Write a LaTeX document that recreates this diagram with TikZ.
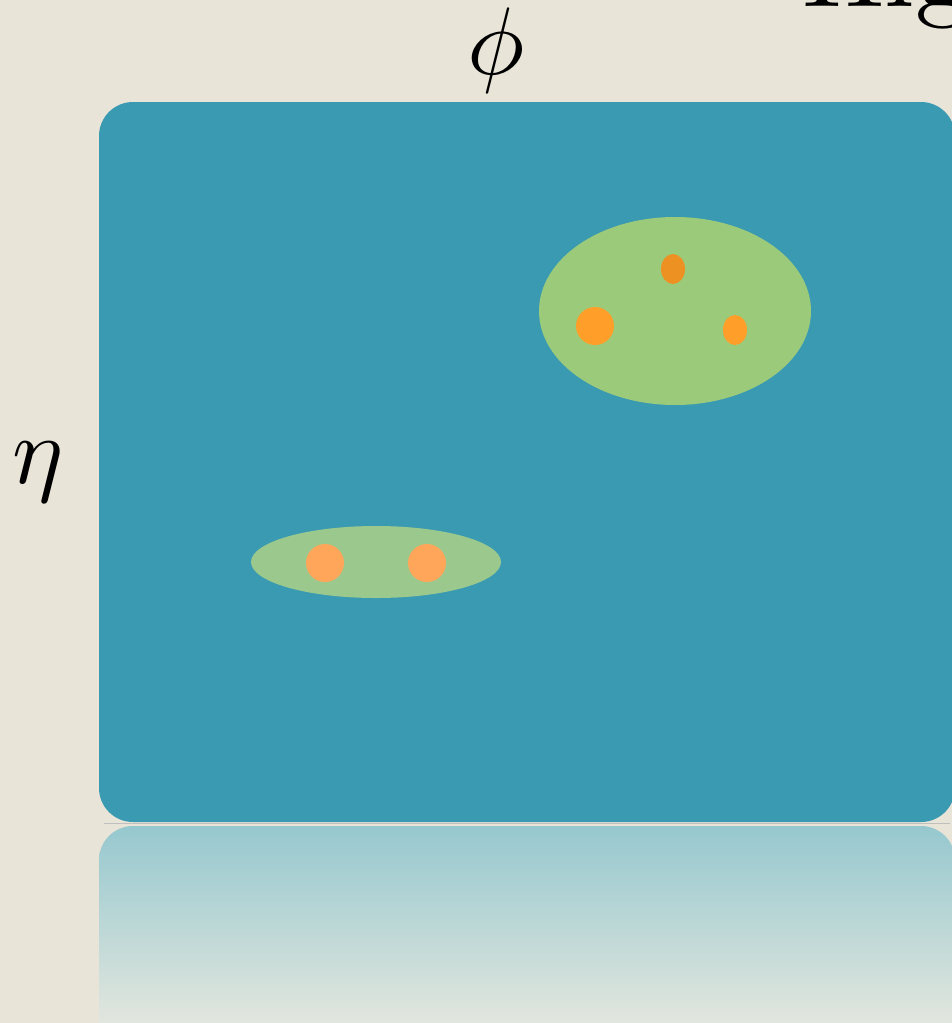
\documentclass[tikz,border=0pt]{standalone}
\begin{document}
\begin{tikzpicture}[x=1pt,y=-1pt]
\definecolor{bgc}{RGB}{232,228,216}
\definecolor{panel}{RGB}{58,154,178}
\definecolor{reflTop}{RGB}{150,200,207}
\definecolor{reflBot}{RGB}{236,234,224}
\definecolor{blobA}{RGB}{155,202,122}
\definecolor{blobB}{RGB}{155,200,140}
\definecolor{dotDark}{RGB}{238,145,35}
\definecolor{dotMid}{RGB}{255,159,42}
\definecolor{dotLight}{RGB}{255,166,90}
\tikzset{
  label/.style={inner sep=0pt, text=black},
  blob/.style={draw=none},
}
\useasboundingbox (0,0) rectangle (952,1023);
\fill[bgc] (0,0) rectangle (952,1023);
% reflection
\shade[rounded corners=34, top color=reflTop, bottom color=reflBot] (99,826) rectangle (955,1050);
\draw[black!25, line width=1.2pt] (104,823.5) -- (950,823.5);
% panel
\fill[panel, rounded corners=34] (99,102) rectangle (955,822);
% big cluster
\fill[blobA] (675,311) ellipse [x radius=136, y radius=94];
\fill[dotDark] (673,269) ellipse [x radius=12, y radius=15];
\fill[dotMid] (595,326) circle [radius=19];
\fill[dotMid] (735,330) ellipse [x radius=12, y radius=15];
% small cluster
\fill[blobB] (376,562) ellipse [x radius=125, y radius=36];
\fill[dotLight] (325,563) circle [radius=19];
\fill[dotLight] (427,563) circle [radius=19];
% labels
\node[label, scale=9.6] (phi) at (496,50) {$\phi$};
\node[label, scale=9.6] (eta) at (38,472) {$\eta$};
\node[label, scale=11, anchor=base west] (title) at (800,6) {Hig};
\end{tikzpicture}
\end{document}
